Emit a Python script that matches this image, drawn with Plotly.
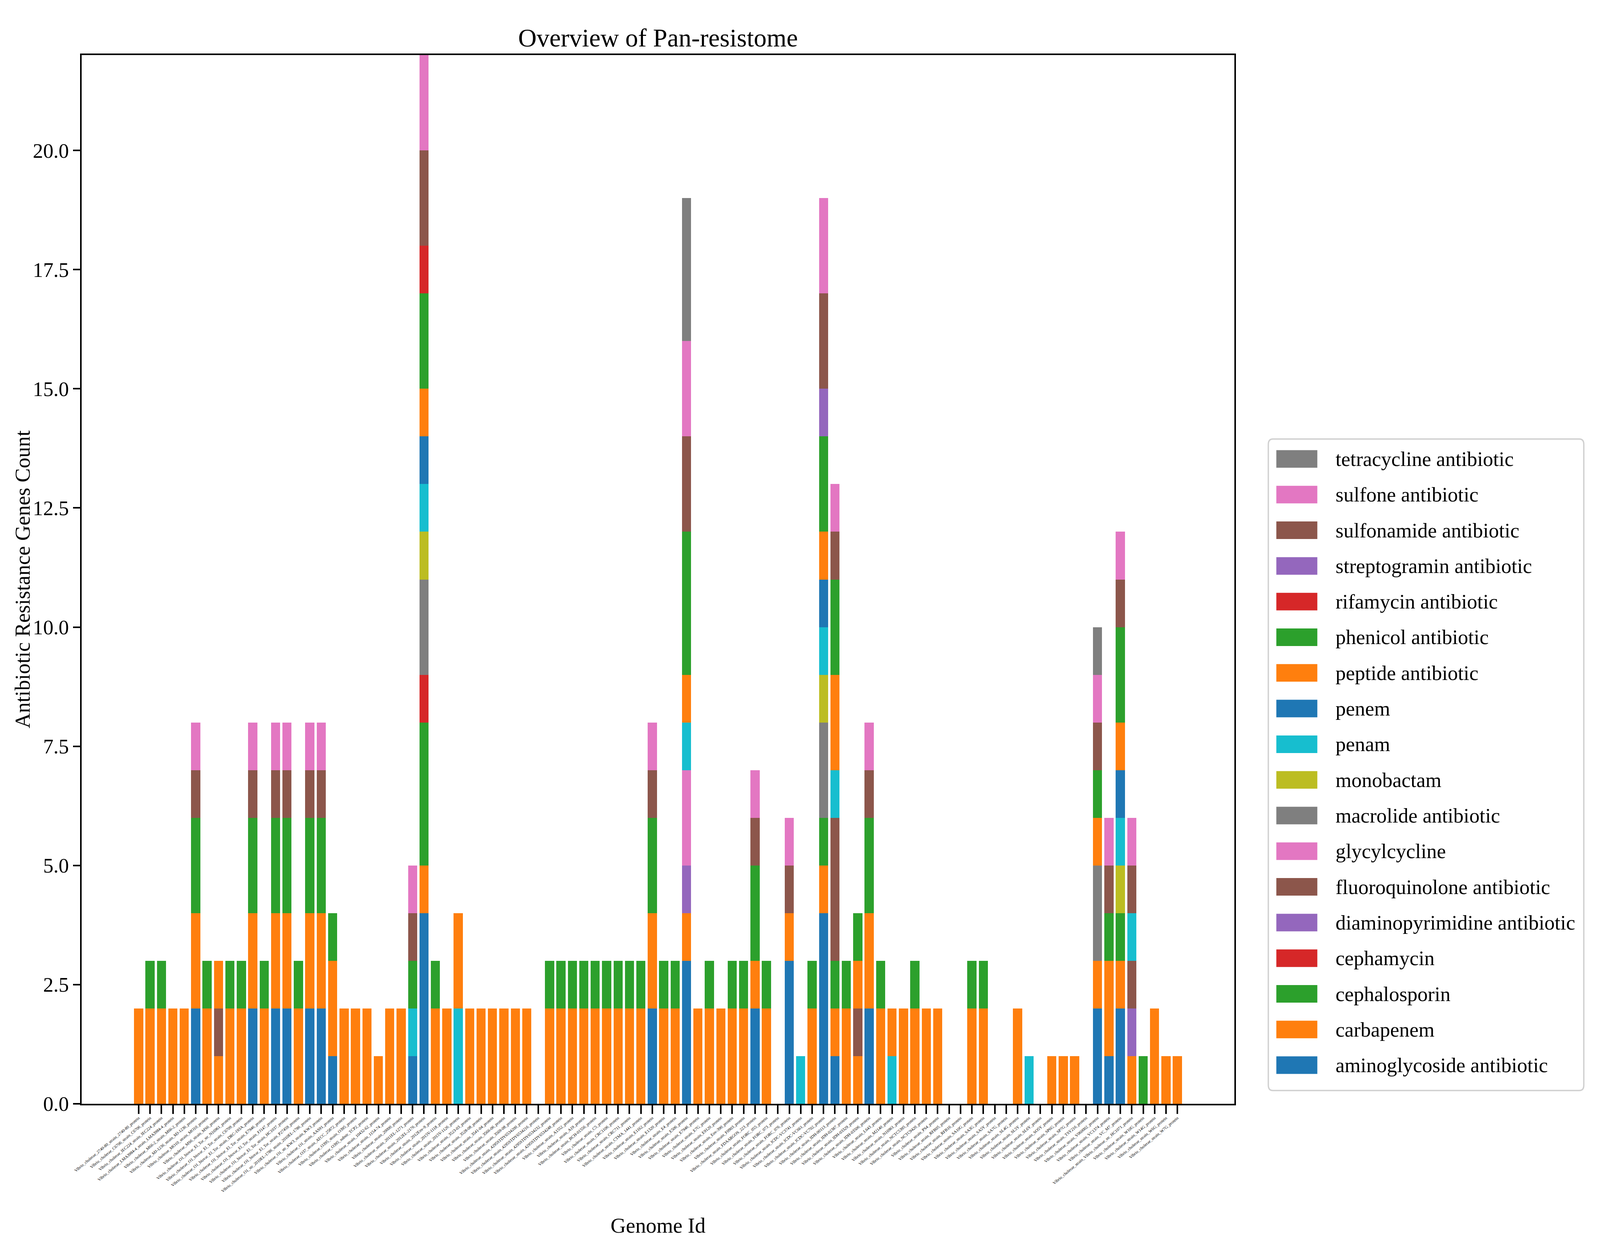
import plotly.graph_objects as go

# Genome ids along the x axis, in the order they appear
genomes = [
    "Vibrio_cholerae_2740-80_strain_2740-80_protein",
    "Vibrio_cholerae_C6706_strain_C6706_protein",
    "Vibrio_cholerae_IEC224_strain_IEC224_protein",
    "Vibrio_cholerae_LMA3984-4_strain_LMA3984-4_protein",
    "Vibrio_cholerae_M66-2_strain_M66-2_protein",
    "Vibrio_cholerae_MJ-1236_strain_MJ-1236_protein",
    "Vibrio_cholerae_MO10_strain_MO10_protein",
    "Vibrio_cholerae_MS6_strain_MS6_protein",
    "Vibrio_cholerae_O1_biovar_El_Tor_str_N16961_protein",
    "Vibrio_cholerae_O1_biovar_El_Tor_strain_C6709_protein",
    "Vibrio_cholerae_O1_biovar_El_Tor_strain_DRC-193A_protein",
    "Vibrio_cholerae_O1_biovar_El_Tor_strain_E7946_protein",
    "Vibrio_cholerae_O1_biovar_El_Tor_strain_FJ147_protein",
    "Vibrio_cholerae_O1_biovar_El_Tor_strain_HC1037_protein",
    "Vibrio_cholerae_O1_biovar_El_Tor_strain_P27459_protein",
    "Vibrio_cholerae_O1_str_2010EL-1786_strain_2010EL-1786_protein",
    "Vibrio_cholerae_O1_str_KW3_strain_KW3_protein",
    "Vibrio_cholerae_O1_strain_AAS91_protein",
    "Vibrio_cholerae_O37_strain_ATCC_25872_protein",
    "Vibrio_cholerae_O395_strain_O395_protein",
    "Vibrio_cholerae_O395_substr_TCP2_protein",
    "Vibrio_cholerae_strain_10432-62_protein",
    "Vibrio_cholerae_strain_1154-74_protein",
    "Vibrio_cholerae_strain_20000_protein",
    "Vibrio_cholerae_strain_2011EL-1271_protein",
    "Vibrio_cholerae_strain_2012EL-2176_protein",
    "Vibrio_cholerae_strain_2012Env-9_protein",
    "Vibrio_cholerae_strain_2015V-1118_protein",
    "Vibrio_cholerae_strain_2015V-1126_protein",
    "Vibrio_cholerae_strain_3523-03_protein",
    "Vibrio_cholerae_strain_3528-08_protein",
    "Vibrio_cholerae_strain_3541-04_protein",
    "Vibrio_cholerae_strain_3566-06_protein",
    "Vibrio_cholerae_strain_3569-08_protein",
    "Vibrio_cholerae_strain_4295STDY6534200_protein",
    "Vibrio_cholerae_strain_4295STDY6534216_protein",
    "Vibrio_cholerae_strain_4295STDY6534232_protein",
    "Vibrio_cholerae_strain_4295STDY6534248_protein",
    "Vibrio_cholerae_strain_A1552_protein",
    "Vibrio_cholerae_strain_A19_protein",
    "Vibrio_cholerae_strain_BCH-01556_protein",
    "Vibrio_cholerae_strain_C5_protein",
    "Vibrio_cholerae_strain_CRC1106_protein",
    "Vibrio_cholerae_strain_CRC711_protein",
    "Vibrio_cholerae_strain_CTMA_1441_protein",
    "Vibrio_cholerae_strain_E1162_protein",
    "Vibrio_cholerae_strain_E1320_protein",
    "Vibrio_cholerae_strain_E4_protein",
    "Vibrio_cholerae_strain_E506_protein",
    "Vibrio_cholerae_strain_E7946_protein",
    "Vibrio_cholerae_strain_E7G_protein",
    "Vibrio_cholerae_strain_E9120_protein",
    "Vibrio_cholerae_strain_Env-390_protein",
    "Vibrio_cholerae_strain_F0903_protein",
    "Vibrio_cholerae_strain_FDAARGOS_223_protein",
    "Vibrio_cholerae_strain_FORC_055_protein",
    "Vibrio_cholerae_strain_FORC_073_protein",
    "Vibrio_cholerae_strain_FORC_076_protein",
    "Vibrio_cholerae_strain_ICDC-VC3741_protein",
    "Vibrio_cholerae_strain_ICDC-VC661_protein",
    "Vibrio_cholerae_strain_ICDC-VC702_protein",
    "Vibrio_cholerae_strain_IDH-00113_protein",
    "Vibrio_cholerae_strain_IDH-02387_protein",
    "Vibrio_cholerae_strain_IDH-03329_protein",
    "Vibrio_cholerae_strain_IDH-03506_protein",
    "Vibrio_cholerae_strain_L643_protein",
    "Vibrio_cholerae_strain_M2140_protein",
    "Vibrio_cholerae_strain_N16961_protein",
    "Vibrio_cholerae_strain_NCTC5395_protein",
    "Vibrio_cholerae_strain_NCTC9420_protein",
    "Vibrio_cholerae_strain_PS4_protein",
    "Vibrio_cholerae_strain_RFB05_protein",
    "Vibrio_cholerae_strain_RFB16_protein",
    "Vibrio_cholerae_strain_SA10G_protein",
    "Vibrio_cholerae_strain_SA3G_protein",
    "Vibrio_cholerae_strain_SA5Y_protein",
    "Vibrio_cholerae_strain_SA7G_protein",
    "Vibrio_cholerae_strain_SL4G_protein",
    "Vibrio_cholerae_strain_SL5Y_protein",
    "Vibrio_cholerae_strain_SL6Y_protein",
    "Vibrio_cholerae_strain_SO5Y_protein",
    "Vibrio_cholerae_strain_SP6G_protein",
    "Vibrio_cholerae_strain_SP7G_protein",
    "Vibrio_cholerae_strain_TSY216_protein",
    "Vibrio_cholerae_strain_V060002_protein",
    "Vibrio_cholerae_strain_VC1374_protein",
    "Vibrio_cholerae_strain_VC_M7_protein",
    "Vibrio_cholerae_strain_Vibrio_cholerae_str_HC1071_protein",
    "Vibrio_cholerae_strain_W10G_protein",
    "Vibrio_cholerae_strain_W14G_protein",
    "Vibrio_cholerae_strain_W6G_protein",
    "Vibrio_cholerae_strain_W7G_protein",
]

# drug classes, bottom of the stack first
drug_classes = [
    "aminoglycoside antibiotic", "carbapenem", "cephalosporin", "cephamycin",
    "diaminopyrimidine antibiotic", "fluoroquinolone antibiotic", "glycylcycline",
    "macrolide antibiotic", "monobactam", "penam", "penem", "peptide antibiotic",
    "phenicol antibiotic", "rifamycin antibiotic", "streptogramin antibiotic",
    "sulfonamide antibiotic", "sulfone antibiotic", "tetracycline antibiotic",
]

# gene counts per genome (10 genomes per row)
aminoglycoside = [
    0, 0, 0, 0, 0, 2, 0, 0, 0, 0,
    2, 0, 2, 2, 0, 2, 2, 1, 0, 0,
    0, 0, 0, 0, 1, 4, 0, 0, 0, 0,
    0, 0, 0, 0, 0, 0, 0, 0, 0, 0,
    0, 0, 0, 0, 0, 2, 0, 0, 3, 0,
    0, 0, 0, 0, 2, 0, 0, 3, 0, 0,
    4, 1, 0, 0, 2, 0, 0, 0, 0, 0,
    0, 0, 0, 0, 0, 0, 0, 0, 0, 0,
    0, 0, 0, 0, 2, 1, 2, 0, 0, 0,
    0, 0,
]
carbapenem = [
    2, 2, 2, 2, 2, 2, 2, 1, 2, 2,
    2, 2, 2, 2, 2, 2, 2, 2, 2, 2,
    2, 1, 2, 2, 0, 1, 2, 2, 0, 2,
    2, 2, 2, 2, 2, 0, 2, 2, 2, 2,
    2, 2, 2, 2, 2, 2, 2, 2, 1, 2,
    2, 2, 2, 2, 1, 2, 0, 1, 0, 2,
    1, 1, 2, 1, 2, 2, 0, 2, 2, 2,
    2, 0, 0, 2, 2, 0, 0, 2, 0, 0,
    1, 1, 1, 0, 1, 2, 1, 1, 0, 2,
    1, 1,
]
cephalosporin = [
    0, 1, 1, 0, 0, 2, 1, 0, 1, 1,
    2, 1, 2, 2, 1, 2, 2, 1, 0, 0,
    0, 0, 0, 0, 0, 3, 1, 0, 0, 0,
    0, 0, 0, 0, 0, 0, 1, 1, 1, 1,
    1, 1, 1, 1, 1, 2, 1, 1, 0, 0,
    1, 0, 1, 1, 2, 1, 0, 0, 0, 1,
    1, 1, 1, 0, 2, 1, 0, 0, 1, 0,
    0, 0, 0, 1, 1, 0, 0, 0, 0, 0,
    0, 0, 0, 0, 0, 1, 1, 0, 1, 0,
    0, 0,
]
cephamycin = [
    0, 0, 0, 0, 0, 0, 0, 0, 0, 0,
    0, 0, 0, 0, 0, 0, 0, 0, 0, 0,
    0, 0, 0, 0, 0, 1, 0, 0, 0, 0,
    0, 0, 0, 0, 0, 0, 0, 0, 0, 0,
    0, 0, 0, 0, 0, 0, 0, 0, 0, 0,
    0, 0, 0, 0, 0, 0, 0, 0, 0, 0,
    0, 0, 0, 0, 0, 0, 0, 0, 0, 0,
    0, 0, 0, 0, 0, 0, 0, 0, 0, 0,
    0, 0, 0, 0, 0, 0, 0, 0, 0, 0,
    0, 0,
]
diaminopyrimidine = [
    0, 0, 0, 0, 0, 0, 0, 0, 0, 0,
    0, 0, 0, 0, 0, 0, 0, 0, 0, 0,
    0, 0, 0, 0, 0, 0, 0, 0, 0, 0,
    0, 0, 0, 0, 0, 0, 0, 0, 0, 0,
    0, 0, 0, 0, 0, 0, 0, 0, 1, 0,
    0, 0, 0, 0, 0, 0, 0, 0, 0, 0,
    0, 0, 0, 0, 0, 0, 0, 0, 0, 0,
    0, 0, 0, 0, 0, 0, 0, 0, 0, 0,
    0, 0, 0, 0, 0, 0, 0, 1, 0, 0,
    0, 0,
]
fluoroquinolone = [
    0, 0, 0, 0, 0, 1, 0, 1, 0, 0,
    1, 0, 1, 1, 0, 1, 1, 0, 0, 0,
    0, 0, 0, 0, 0, 0, 0, 0, 0, 0,
    0, 0, 0, 0, 0, 0, 0, 0, 0, 0,
    0, 0, 0, 0, 0, 1, 0, 0, 0, 0,
    0, 0, 0, 0, 1, 0, 0, 1, 0, 0,
    0, 3, 0, 1, 1, 0, 0, 0, 0, 0,
    0, 0, 0, 0, 0, 0, 0, 0, 0, 0,
    0, 0, 0, 0, 0, 1, 0, 1, 0, 0,
    0, 0,
]
glycylcycline = [
    0, 0, 0, 0, 0, 1, 0, 0, 0, 0,
    1, 0, 1, 1, 0, 1, 1, 0, 0, 0,
    0, 0, 0, 0, 0, 0, 0, 0, 0, 0,
    0, 0, 0, 0, 0, 0, 0, 0, 0, 0,
    0, 0, 0, 0, 0, 1, 0, 0, 2, 0,
    0, 0, 0, 0, 1, 0, 0, 1, 0, 0,
    0, 0, 0, 0, 1, 0, 0, 0, 0, 0,
    0, 0, 0, 0, 0, 0, 0, 0, 0, 0,
    0, 0, 0, 0, 0, 1, 0, 0, 0, 0,
    0, 0,
]
macrolide = [
    0, 0, 0, 0, 0, 0, 0, 0, 0, 0,
    0, 0, 0, 0, 0, 0, 0, 0, 0, 0,
    0, 0, 0, 0, 0, 2, 0, 0, 0, 0,
    0, 0, 0, 0, 0, 0, 0, 0, 0, 0,
    0, 0, 0, 0, 0, 0, 0, 0, 0, 0,
    0, 0, 0, 0, 0, 0, 0, 0, 0, 0,
    2, 0, 0, 0, 0, 0, 0, 0, 0, 0,
    0, 0, 0, 0, 0, 0, 0, 0, 0, 0,
    0, 0, 0, 0, 2, 0, 0, 0, 0, 0,
    0, 0,
]
monobactam = [
    0, 0, 0, 0, 0, 0, 0, 0, 0, 0,
    0, 0, 0, 0, 0, 0, 0, 0, 0, 0,
    0, 0, 0, 0, 0, 1, 0, 0, 0, 0,
    0, 0, 0, 0, 0, 0, 0, 0, 0, 0,
    0, 0, 0, 0, 0, 0, 0, 0, 0, 0,
    0, 0, 0, 0, 0, 0, 0, 0, 0, 0,
    1, 0, 0, 0, 0, 0, 0, 0, 0, 0,
    0, 0, 0, 0, 0, 0, 0, 0, 0, 0,
    0, 0, 0, 0, 0, 0, 1, 0, 0, 0,
    0, 0,
]
penam = [
    0, 0, 0, 0, 0, 0, 0, 0, 0, 0,
    0, 0, 0, 0, 0, 0, 0, 0, 0, 0,
    0, 0, 0, 0, 1, 1, 0, 0, 2, 0,
    0, 0, 0, 0, 0, 0, 0, 0, 0, 0,
    0, 0, 0, 0, 0, 0, 0, 0, 1, 0,
    0, 0, 0, 0, 0, 0, 0, 0, 1, 0,
    1, 1, 0, 0, 0, 0, 1, 0, 0, 0,
    0, 0, 0, 0, 0, 0, 0, 0, 1, 0,
    0, 0, 0, 0, 0, 0, 1, 1, 0, 0,
    0, 0,
]
penem = [
    0, 0, 0, 0, 0, 0, 0, 0, 0, 0,
    0, 0, 0, 0, 0, 0, 0, 0, 0, 0,
    0, 0, 0, 0, 0, 1, 0, 0, 0, 0,
    0, 0, 0, 0, 0, 0, 0, 0, 0, 0,
    0, 0, 0, 0, 0, 0, 0, 0, 0, 0,
    0, 0, 0, 0, 0, 0, 0, 0, 0, 0,
    1, 0, 0, 0, 0, 0, 0, 0, 0, 0,
    0, 0, 0, 0, 0, 0, 0, 0, 0, 0,
    0, 0, 0, 0, 0, 0, 1, 0, 0, 0,
    0, 0,
]
peptide = [
    0, 0, 0, 0, 0, 0, 0, 1, 0, 0,
    0, 0, 0, 0, 0, 0, 0, 0, 0, 0,
    0, 0, 0, 0, 0, 1, 0, 0, 2, 0,
    0, 0, 0, 0, 0, 0, 0, 0, 0, 0,
    0, 0, 0, 0, 0, 0, 0, 0, 1, 0,
    0, 0, 0, 0, 0, 0, 0, 0, 0, 0,
    1, 2, 0, 1, 0, 0, 1, 0, 0, 0,
    0, 0, 0, 0, 0, 0, 0, 0, 0, 0,
    0, 0, 0, 0, 1, 0, 1, 0, 0, 0,
    0, 0,
]
phenicol = [
    0, 0, 0, 0, 0, 0, 0, 0, 0, 0,
    0, 0, 0, 0, 0, 0, 0, 0, 0, 0,
    0, 0, 0, 0, 1, 2, 0, 0, 0, 0,
    0, 0, 0, 0, 0, 0, 0, 0, 0, 0,
    0, 0, 0, 0, 0, 0, 0, 0, 3, 0,
    0, 0, 0, 0, 0, 0, 0, 0, 0, 0,
    2, 2, 0, 1, 0, 0, 0, 0, 0, 0,
    0, 0, 0, 0, 0, 0, 0, 0, 0, 0,
    0, 0, 0, 0, 1, 0, 2, 0, 0, 0,
    0, 0,
]
rifamycin = [
    0, 0, 0, 0, 0, 0, 0, 0, 0, 0,
    0, 0, 0, 0, 0, 0, 0, 0, 0, 0,
    0, 0, 0, 0, 0, 1, 0, 0, 0, 0,
    0, 0, 0, 0, 0, 0, 0, 0, 0, 0,
    0, 0, 0, 0, 0, 0, 0, 0, 0, 0,
    0, 0, 0, 0, 0, 0, 0, 0, 0, 0,
    0, 0, 0, 0, 0, 0, 0, 0, 0, 0,
    0, 0, 0, 0, 0, 0, 0, 0, 0, 0,
    0, 0, 0, 0, 0, 0, 0, 0, 0, 0,
    0, 0,
]
streptogramin = [
    0, 0, 0, 0, 0, 0, 0, 0, 0, 0,
    0, 0, 0, 0, 0, 0, 0, 0, 0, 0,
    0, 0, 0, 0, 0, 0, 0, 0, 0, 0,
    0, 0, 0, 0, 0, 0, 0, 0, 0, 0,
    0, 0, 0, 0, 0, 0, 0, 0, 0, 0,
    0, 0, 0, 0, 0, 0, 0, 0, 0, 0,
    1, 0, 0, 0, 0, 0, 0, 0, 0, 0,
    0, 0, 0, 0, 0, 0, 0, 0, 0, 0,
    0, 0, 0, 0, 0, 0, 0, 0, 0, 0,
    0, 0,
]
sulfonamide = [
    0, 0, 0, 0, 0, 0, 0, 0, 0, 0,
    0, 0, 0, 0, 0, 0, 0, 0, 0, 0,
    0, 0, 0, 0, 1, 2, 0, 0, 0, 0,
    0, 0, 0, 0, 0, 0, 0, 0, 0, 0,
    0, 0, 0, 0, 0, 0, 0, 0, 2, 0,
    0, 0, 0, 0, 0, 0, 0, 0, 0, 0,
    2, 1, 0, 0, 0, 0, 0, 0, 0, 0,
    0, 0, 0, 0, 0, 0, 0, 0, 0, 0,
    0, 0, 0, 0, 1, 0, 1, 1, 0, 0,
    0, 0,
]
sulfone = [
    0, 0, 0, 0, 0, 0, 0, 0, 0, 0,
    0, 0, 0, 0, 0, 0, 0, 0, 0, 0,
    0, 0, 0, 0, 1, 2, 0, 0, 0, 0,
    0, 0, 0, 0, 0, 0, 0, 0, 0, 0,
    0, 0, 0, 0, 0, 0, 0, 0, 2, 0,
    0, 0, 0, 0, 0, 0, 0, 0, 0, 0,
    2, 1, 0, 0, 0, 0, 0, 0, 0, 0,
    0, 0, 0, 0, 0, 0, 0, 0, 0, 0,
    0, 0, 0, 0, 1, 0, 1, 1, 0, 0,
    0, 0,
]
tetracycline = [
    0, 0, 0, 0, 0, 0, 0, 0, 0, 0,
    0, 0, 0, 0, 0, 0, 0, 0, 0, 0,
    0, 0, 0, 0, 0, 0, 0, 0, 0, 0,
    0, 0, 0, 0, 0, 0, 0, 0, 0, 0,
    0, 0, 0, 0, 0, 0, 0, 0, 3, 0,
    0, 0, 0, 0, 0, 0, 0, 0, 0, 0,
    0, 0, 0, 0, 0, 0, 0, 0, 0, 0,
    0, 0, 0, 0, 0, 0, 0, 0, 0, 0,
    0, 0, 0, 0, 1, 0, 0, 0, 0, 0,
    0, 0,
]

counts = [
    aminoglycoside, carbapenem, cephalosporin, cephamycin, diaminopyrimidine,
    fluoroquinolone, glycylcycline, macrolide, monobactam, penam, penem, peptide,
    phenicol, rifamycin, streptogramin, sulfonamide, sulfone, tetracycline,
]

# matplotlib tab10 cycle
tab10 = ["#1f77b4", "#ff7f0e", "#2ca02c", "#d62728", "#9467bd",
         "#8c564b", "#e377c2", "#7f7f7f", "#bcbd22", "#17becf"]

FONT = "Liberation Serif"

# Layout is measured in pixels of the 4996x3208 reference image. The page only
# shows 4096 css px across (3208 down), and the body has an 8px margin, so
# reference pixels are mapped onto that area.
REF_W, REF_H = 4996, 3208
VIEW_W, VIEW_H = 4096, 3208
BODY = 8
KX = VIEW_W / REF_W
KY = VIEW_H / REF_H
KT = 0.85  # text / line scale
W = VIEW_W - 2 * BODY
H = VIEW_H - 2 * BODY


def fx(v):
    return v * KX - BODY


def fy(v):
    return v * KY - BODY


PLOT_L, PLOT_R, PLOT_T, PLOT_B = 255, 3854, 141, 2826


def paper_x(px):
    return (px - PLOT_L) / (PLOT_R - PLOT_L)


def paper_y(py):
    return (PLOT_B - py) / (PLOT_B - PLOT_T)


def rounded_box(x0, y0, x1, y1, r):
    """SVG path (paper coords) for a box with rounded corners, given in ref pixels."""
    pts = [
        ("M", [(x0 + r, y0)]), ("L", [(x1 - r, y0)]), ("Q", [(x1, y0), (x1, y0 + r)]),
        ("L", [(x1, y1 - r)]), ("Q", [(x1, y1), (x1 - r, y1)]),
        ("L", [(x0 + r, y1)]), ("Q", [(x0, y1), (x0, y1 - r)]),
        ("L", [(x0, y0 + r)]), ("Q", [(x0, y0), (x0 + r, y0)]),
    ]
    path = ""
    for cmd, coords in pts:
        path += cmd + " ".join(f"{paper_x(x):.5f},{paper_y(y):.5f}" for x, y in coords)
    return path + "Z"


assert all(len(c) == len(genomes) for c in counts)

fig = go.Figure()
for i, (name, vals) in enumerate(zip(drug_classes, counts)):
    fig.add_trace(go.Bar(
        x=genomes,
        y=vals,
        name=name,
        marker=dict(color=tab10[i % 10], line=dict(width=0)),
        showlegend=False,
    ))

fig.update_layout(
    width=W,
    height=H,
    barmode="stack",
    bargap=0.2,
    plot_bgcolor="white",
    paper_bgcolor="white",
    margin=dict(
        l=fx(PLOT_L), r=W - fx(PLOT_R), t=fy(PLOT_T), b=H - fy(PLOT_B),
        autoexpand=False,
    ),
    font=dict(family=FONT, color="black", size=62 * KT),
    title=dict(
        text="Overview of Pan-resistome",
        x=0.5, xref="paper", xanchor="center",
        y=1 - fy(96) / H, yref="container", yanchor="middle",
        font=dict(family=FONT, size=77 * KT, color="black"),
    ),
)

fig.update_xaxes(
    type="category",
    categoryorder="array",
    categoryarray=genomes,
    tickmode="array",
    tickvals=genomes,
    ticktext=genomes,
    range=[-4.99, 95.99],
    tickangle=-40,
    tickfont=dict(family=FONT, size=12.5 * KT, color="black"),
    ticks="outside", ticklen=22 * KY, tickwidth=5 * KT, tickcolor="black",
    showline=True, linecolor="black", linewidth=5 * KT, mirror=True,
    showgrid=False, zeroline=False, automargin=False,
)
fig.update_yaxes(
    range=[0, 22],
    tick0=0, dtick=2.5, tickformat=".1f",
    tickfont=dict(family=FONT, size=62 * KT, color="black"),
    ticks="outside", ticklen=22 * KX, tickwidth=5 * KT, tickcolor="black",
    showline=True, linecolor="black", linewidth=5 * KT, mirror=True,
    showgrid=False, zeroline=False, automargin=False,
)

# axis titles
fig.add_annotation(
    text="Genome Id", xref="paper", yref="paper",
    x=0.5, y=paper_y(3138), xanchor="center", yanchor="middle",
    showarrow=False, font=dict(family=FONT, size=64 * KT, color="black"),
)
fig.add_annotation(
    text="Antibiotic Resistance Genes Count", xref="paper", yref="paper",
    x=paper_x(70), y=0.5, xanchor="center", yanchor="middle", textangle=-90,
    showarrow=False, font=dict(family=FONT, size=64 * KT, color="black"),
)

# legend drawn by hand so the swatches match the matplotlib size
LEG_X0, LEG_X1, LEG_Y0, LEG_Y1 = 3960, 4945, 1124, 2792
ROW0, ROW_STEP = 1175, 91.3
PATCH_X0, PATCH_X1, PATCH_H = 3985, 4113, 45
TEXT_X = 4167
LEG_FONT = 64 * KX  # keep the labels as wide as in the reference

fig.add_shape(
    type="path", xref="paper", yref="paper",
    path=rounded_box(LEG_X0, LEG_Y0, LEG_X1, LEG_Y1, 14),
    fillcolor="white", line=dict(color="#d0d0d0", width=4 * KT), layer="above",
)
for row, i in enumerate(reversed(range(len(drug_classes)))):
    cy = ROW0 + row * ROW_STEP
    fig.add_shape(
        type="rect", xref="paper", yref="paper",
        x0=paper_x(PATCH_X0), x1=paper_x(PATCH_X1),
        y0=paper_y(cy - PATCH_H / 2), y1=paper_y(cy + PATCH_H / 2),
        fillcolor=tab10[i % 10], line=dict(width=0), layer="above",
    )
    fig.add_annotation(
        text=drug_classes[i], xref="paper", yref="paper",
        x=paper_x(TEXT_X), y=paper_y(cy), xanchor="left", yanchor="middle",
        showarrow=False, font=dict(family=FONT, size=LEG_FONT, color="black"),
    )

fig.write_html("out.html")
